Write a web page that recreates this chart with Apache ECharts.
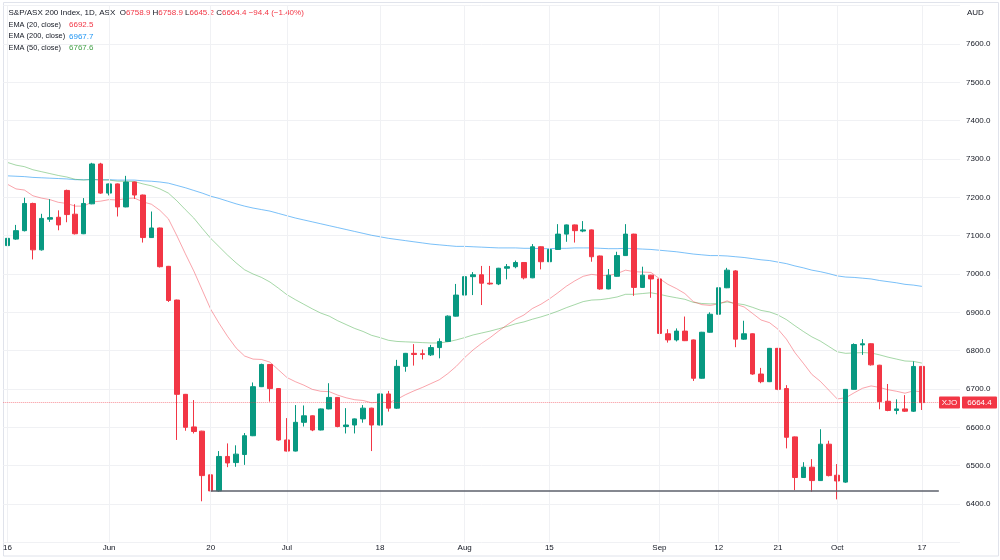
<!DOCTYPE html>
<html>
<head>
<meta charset="utf-8">
<title>S&amp;P/ASX 200 Index, 1D</title>
<script src="https://cdn.jsdelivr.net/npm/echarts@6/dist/echarts.min.js"></script>
<style>
  html, body { margin: 0; padding: 0; background: #fff; }
  #chart { width: 1000px; height: 560px; }
</style>
</head>
<body>
<div id="chart"></div>
<script>
// trading days shown (16 May - 17 Oct 2022)
const dates = [
  '2022-05-16','2022-05-17','2022-05-18','2022-05-19','2022-05-20','2022-05-23','2022-05-24','2022-05-25','2022-05-26','2022-05-27','2022-05-30','2022-05-31',
  '2022-06-01','2022-06-02','2022-06-03','2022-06-06','2022-06-07','2022-06-08','2022-06-09','2022-06-10','2022-06-14','2022-06-15','2022-06-16','2022-06-17',
  '2022-06-20','2022-06-21','2022-06-22','2022-06-23','2022-06-24','2022-06-27','2022-06-28','2022-06-29','2022-06-30',
  '2022-07-01','2022-07-04','2022-07-05','2022-07-06','2022-07-07','2022-07-08','2022-07-11','2022-07-12','2022-07-13','2022-07-14','2022-07-15',
  '2022-07-18','2022-07-19','2022-07-20','2022-07-21','2022-07-22','2022-07-25','2022-07-26','2022-07-27','2022-07-28','2022-07-29',
  '2022-08-01','2022-08-02','2022-08-03','2022-08-04','2022-08-05','2022-08-08','2022-08-09','2022-08-10','2022-08-11','2022-08-12',
  '2022-08-15','2022-08-16','2022-08-17','2022-08-18','2022-08-19','2022-08-22','2022-08-23','2022-08-24','2022-08-25','2022-08-26','2022-08-29','2022-08-30','2022-08-31',
  '2022-09-01','2022-09-02','2022-09-05','2022-09-06','2022-09-07','2022-09-08','2022-09-09','2022-09-12','2022-09-13','2022-09-14','2022-09-15','2022-09-16',
  '2022-09-19','2022-09-20','2022-09-21','2022-09-23','2022-09-26','2022-09-27','2022-09-28','2022-09-29','2022-09-30',
  '2022-10-03','2022-10-04','2022-10-05','2022-10-06','2022-10-07','2022-10-10','2022-10-11','2022-10-12','2022-10-13','2022-10-14','2022-10-17'
];

const opens = [
  7074,7091,7113,7184,7063,7143,7148,7218,7156,7105,7183,7287,
  7211,7235,7175,7240,7206,7095,7120,7020,6932,6686,6601,6590,
  6476,6434,6524,6508,6529,6578,6706,6764,6701,
  6567,6538,6613,6630,6593,6648,6678,6602,6606,6622,6650,
  6606,6687,6650,6759,6793,6792,6789,6808,6824,6890,
  6945,6993,6998,6976,6974,7015,7019,7030,6990,7071,
  7032,7064,7104,7128,7112,7115,7047,6961,6994,7048,7104,6965,6997,
  6987,6844,6828,6851,6828,6728,6848,6895,6964,7008,6830,6844,
  6739,6719,6806,6701,6575,6469,6496,6461,6556,
  6475,6457,6699,6815,6818,6762,6668,6644,6648,6642,6758.9
];
const highs = [
  7150,7128,7199,7186,7157,7195,7166,7220,7182,7198,7290,7290,
  7236,7236,7256,7241,7207,7163,7121,7021,6933,6687,6671,6591,
  6493,6538,6558,6553,6585,6717,6766,6765,6702,
  6624,6658,6657,6631,6649,6715,6679,6650,6623,6658,6651,
  6688,6695,6776,6794,6817,6803,6815,6832,6892,6974,
  6995,7005,7021,7021,7016,7026,7035,7031,7078,7072,
  7076,7130,7129,7129,7138,7116,7048,7013,7058,7130,7105,7019,6998,
  6988,6856,6858,6889,6829,6849,6900,6976,7016,7010,6878,6845,
  6755,6807,6807,6710,6576,6509,6517,6595,6565,
  6504,6700,6819,6830,6819,6763,6713,6673,6684,6772,6758.9
];
const lows = [
  7070,7089,7111,7038,7061,7136,7114,7135,7103,7104,7182,7209,
  7205,7150,7174,7196,7082,7094,7017,6927,6567,6591,6584,6407,
  6406,6432,6496,6497,6502,6577,6705,6667,6565,
  6537,6537,6602,6590,6592,6647,6600,6584,6584,6612,6538,
  6605,6641,6648,6745,6761,6777,6786,6780,6823,6889,
  6944,6945,6919,6972,6971,6986,7015,6986,6989,7012,
  7031,7063,7084,7082,7109,7032,6959,6960,6993,7047,6943,6964,6938,
  6837,6821,6824,6825,6721,6727,6847,6894,6963,6809,6828,6737,
  6715,6718,6697,6545,6436,6468,6432,6460,6472,
  6412,6455,6698,6789,6761,6647,6642,6634,6640,6640,6645.2
];
const closes = [
  7093,7113,7184,7063,7145,7147,7128,7155,7105,7184,7287,7211,
  7235,7175,7240,7206,7095,7120,7019,6931,6686,6600,6589,6474,
  6434,6524,6507,6530,6578,6706,6764,6701,6567,
  6538,6613,6630,6593,6648,6678,6602,6606,6622,6650,6606,
  6687,6650,6759,6793,6790,6790,6808,6824,6890,6945,
  6993,6998,6976,6974,7015,7019,7030,6990,7071,7032,
  7064,7104,7128,7113,7115,7045,6961,6997,7048,7104,6965,6997,6987,
  6845,6828,6851,6826,6728,6848,6895,6964,7010,6830,6844,6739,
  6719,6806,6699,6574,6469,6496,6461,6556,6474,
  6460,6699,6816,6818,6763,6667,6644,6648,6642,6758.8,6664.4
];

// EMA lines
const ema20 = [
  7234,7222,7219,7204,7198,7194,7187,7184,7177,7177,7188,7190,
  7194,7193,7197,7198,7188,7182,7166,7144,7100,7053,7008,6958,
  6908,6871,6837,6807,6786,6778,6777,6770,6750,
  6730,6719,6710,6699,6694,6693,6684,6677,6672,6670,6664,
  6666,6664,6673,6685,6695,6704,6714,6724,6740,6759,
  6782,6802,6819,6834,6851,6867,6882,6893,6910,6921,
  6935,6951,6968,6982,6994,6999,6996,6996,7001,7010,7006,7005,7004,
  6988,6973,6962,6949,6928,6920,6918,6922,6930,6921,6914,6897,
  6880,6873,6856,6830,6795,6767,6738,6720,6697,
  6674,6677,6690,6702,6708,6704,6698,6694,6689,6695,6692.5
];
const ema50 = [
  7291,7284,7280,7272,7267,7262,7257,7253,7247,7245,7247,7245,
  7245,7242,7242,7241,7235,7230,7222,7211,7191,7168,7146,7119,
  7093,7071,7049,7029,7011,7000,6991,6979,6963,
  6946,6933,6921,6909,6898,6890,6878,6868,6858,6850,6840,
  6834,6827,6824,6823,6822,6821,6820,6820,6823,6828,
  6834,6841,6846,6851,6857,6863,6870,6875,6882,6888,
  6895,6903,6912,6920,6928,6932,6933,6936,6940,6947,6947,6949,6951,
  6947,6942,6938,6934,6926,6923,6922,6923,6927,6923,6920,6913,
  6905,6901,6893,6881,6865,6850,6836,6825,6811,
  6797,6793,6794,6795,6794,6789,6783,6778,6773,6772,6767.6
];
const ema200 = [
  7256,7255,7254,7252,7251,7250,7249,7248,7246,7246,7246,7246,
  7246,7245,7245,7245,7243,7242,7240,7237,7231,7225,7218,7211,
  7203,7197,7190,7183,7177,7172,7168,7164,7158,
  7152,7146,7141,7136,7131,7126,7121,7116,7111,7106,7101,
  7097,7093,7090,7087,7084,7081,7078,7076,7074,7072,
  7072,7071,7070,7069,7068,7068,7068,7067,7067,7066,
  7066,7067,7067,7068,7068,7068,7067,7066,7066,7067,7066,7065,7064,
  7062,7060,7058,7055,7052,7050,7048,7048,7047,7045,7043,7040,
  7037,7035,7031,7027,7021,7016,7010,7006,7001,
  6995,6992,6991,6989,6987,6983,6980,6977,6973,6971,6967.7
];

// time axis labels
const tickDates = ['2022-05-16','2022-06-01','2022-06-20','2022-07-01','2022-07-18','2022-08-01','2022-08-15','2022-09-01','2022-09-12','2022-09-21','2022-10-03','2022-10-17'];
const tickLabels = ['16','Jun','20','Jul','18','Aug','15','Sep','12','21','Oct','17'];

const supportLevel = 6433.4;
const supportFrom = '2022-06-20';

const FONT = "'Liberation Sans', Arial, sans-serif";
const UP = '#089981', DOWN = '#F23645';
const TXT = '#131722';

const n = dates.length;
const cats = dates.concat(['pad1', 'pad2', 'pad3', 'pad4']);
const candles = dates.map((d, i) => [opens[i], closes[i], lows[i], highs[i]]);
const tickIdx = tickDates.map(d => dates.indexOf(d));
const last = n - 1;
const chg = closes[last] - closes[last - 1];
const pct = chg / closes[last - 1] * 100;
const sgn = v => (v < 0 ? '\u2212' : '+');

let chart = echarts.init(document.getElementById('chart'));

let header = '{t|S&P/ASX 200 Index, 1D, ASX}  ' +
  '{t|O}{r|' + opens[last].toFixed(1) + '} ' +
  '{t|H}{r|' + highs[last].toFixed(1) + '} ' +
  '{t|L}{r|' + lows[last].toFixed(1) + '} ' +
  '{t|C}{r|' + closes[last].toFixed(1) + '} ' +
  '{r|' + sgn(chg) + Math.abs(chg).toFixed(1) + ' (' + sgn(pct) + Math.abs(pct).toFixed(2) + '%)}';

const legendRows = [
  { label: 'EMA (20, close)', value: ema20[last], color: '#F23645' },
  { label: 'EMA (200, close)', value: ema200[last], color: '#2196F3' },
  { label: 'EMA (50, close)', value: ema50[last], color: '#43A047' },
];

const HFONT = '8px ' + FONT;
const LFONT = '7.4px ' + FONT;

const graphics = [
  {
    type: 'rect', id: 'frame', silent: true,
    shape: { x: 3.5, y: 2.5, width: 995, height: 553.5 },
    style: { fill: 'none', stroke: '#E0E3EB', lineWidth: 1 }
  },
  {
    type: 'text', id: 'head', x: 8.5, y: 13, silent: true,
    style: {
      text: header, font: HFONT, fill: TXT, verticalAlign: 'middle',
      rich: {
        t: { fill: TXT, fontSize: 8, fontFamily: FONT },
        r: { fill: DOWN, fontSize: 8, fontFamily: FONT }
      }
    }
  },
  {
    type: 'text', id: 'aud', x: 967, y: 13, silent: true,
    style: { text: 'AUD', font: '8px ' + FONT, fill: TXT, verticalAlign: 'middle' }
  }
];
legendRows.forEach((r, k) => {
  graphics.push({
    type: 'text', id: 'lg' + k, x: 8.5, y: 24.8 + k * 11.6, silent: true,
    style: { text: r.label, font: LFONT, fill: TXT, verticalAlign: 'middle' }
  });
  graphics.push({
    type: 'text', id: 'lv' + k, x: 69, y: 24.8 + k * 11.6, silent: true,
    style: { text: r.value.toFixed(1), font: '8px ' + FONT, fill: r.color, verticalAlign: 'middle' }
  });
});

const emaLine = (name, data, color) => ({
  name: name, type: 'line', data: data, symbol: 'none', showSymbol: false,
  silent: true, z: 1, lineStyle: { color: color, width: 1 }
});

let option = {
  animation: false,
  backgroundColor: '#ffffff',
  textStyle: { fontFamily: FONT },
  grid: { left: 3.27, right: 40, top: 5.67, bottom: 17.7 },
  xAxis: {
    type: 'category',
    data: cats,
    boundaryGap: true,
    axisLine: { show: false },
    axisTick: { show: false },
    splitLine: { show: false },
    axisLabel: {
      interval: (i) => tickIdx.indexOf(i) >= 0,
      formatter: (v, i) => {
        const k = tickDates.indexOf(v);
        return k >= 0 ? tickLabels[k] : '';
      },
      color: TXT, fontSize: 8, fontFamily: FONT, margin: 1
    }
  },
  yAxis: {
    type: 'value',
    position: 'right',
    min: 6300, max: 7700, interval: 100,
    axisLine: { show: false },
    axisTick: { show: false },
    axisLabel: {
      color: TXT, fontSize: 8, fontFamily: FONT, margin: 6, align: 'left',
      formatter: v => (v <= 6300 || v >= 7700) ? '' : v.toFixed(1)
    },
    splitLine: { lineStyle: { color: '#F0F1F4', width: 1 } }
  },
  series: [
    {
      name: 'vgrid', type: 'line', data: [], silent: true, z: 0,
      markLine: {
        silent: true, symbol: ['none', 'none'], label: { show: false },
        lineStyle: { color: '#F0F1F4', width: 1, type: 'solid' },
        emphasis: { disabled: true },
        data: tickIdx.map(i => ({ xAxis: i }))
      }
    },
    emaLine('EMA 200', ema200, 'rgba(33,150,243,0.6)'),
    emaLine('EMA 50', ema50, 'rgba(76,175,80,0.5)'),
    emaLine('EMA 20', ema20, 'rgba(242,54,69,0.45)'),
    {
      name: 'XJO', type: 'candlestick', data: candles, barWidth: 5, z: 3,
      itemStyle: {
        color: UP, color0: DOWN, borderColor: UP, borderColor0: DOWN, borderWidth: 1
      },
      markLine: {
        silent: true, symbol: ['none', 'none'], label: { show: false },
        emphasis: { disabled: true },
        data: [
          { yAxis: closes[last], lineStyle: { type: 'dotted', color: 'rgba(242,54,69,0.55)', width: 1 } },
          [
            { coord: [dates.indexOf(supportFrom), supportLevel], lineStyle: { type: 'solid', color: '#5d606b', width: 1.5 } },
            { coord: [n + 1, supportLevel] }
          ]
        ]
      }
    }
  ],
  graphic: graphics
};

chart.setOption(option);

// price tag on the right
const py = chart.convertToPixel({ yAxisIndex: 0 }, closes[last]);
chart.setOption({
  graphic: graphics.concat([
    { type: 'rect', id: 'tag1', silent: true, shape: { x: 939, y: py - 6, width: 21, height: 12, r: 1 }, style: { fill: DOWN } },
    { type: 'text', id: 'tag1t', silent: true, x: 949.5, y: py, style: { text: 'XJO', font: '8px ' + FONT, fill: '#fff', align: 'center', verticalAlign: 'middle' } },
    { type: 'rect', id: 'tag2', silent: true, shape: { x: 962, y: py - 6, width: 35, height: 12, r: 1 }, style: { fill: DOWN } },
    { type: 'text', id: 'tag2t', silent: true, x: 979.5, y: py, style: { text: closes[last].toFixed(1), font: '8px ' + FONT, fill: '#fff', align: 'center', verticalAlign: 'middle' } }
  ])
});

window.addEventListener('resize', function () {
  chart && chart.resize();
});
</script>
</body>
</html>
